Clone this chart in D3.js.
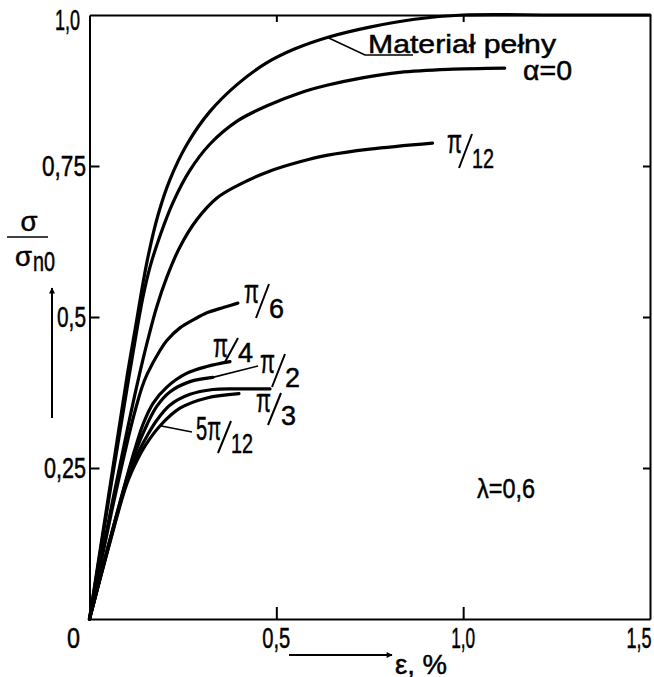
<!DOCTYPE html>
<html>
<head>
<meta charset="utf-8">
<script src="https://cdn.jsdelivr.net/npm/d3@7/dist/d3.min.js"></script>
<style>
  body { margin: 0; background: #fff; }
  svg { display: block; }
  text { font-family: "Liberation Sans", Arial, sans-serif; fill: #000; stroke: #000; stroke-width: 0.5px; }
  .axis path, .axis line { stroke: #000; stroke-width: 2; }
</style>
</head>
<body>
<svg id="svg" width="654" height="677"></svg>
<script>
// strain (%) / relative stress pairs
var pelny   = [[0,0],[0.06,0.24],[0.1,0.40],[0.125,0.49],[0.14,0.545],[0.156,0.598],[0.183,0.668],[0.215,0.727],[0.261,0.786],[0.322,0.840],[0.397,0.886],[0.475,0.921],[0.55,0.944],[0.643,0.964],[0.75,0.98],[0.87,0.993],[1.0,1.0],[1.25,1.0],[1.5,1.0]];
var alfa0   = [[0,0],[0.06,0.23],[0.1,0.38],[0.13,0.49],[0.143,0.533],[0.162,0.583],[0.189,0.635],[0.223,0.689],[0.269,0.743],[0.322,0.786],[0.397,0.825],[0.48,0.851],[0.563,0.871],[0.638,0.884],[0.73,0.896],[0.83,0.905],[0.96,0.91],[1.111,0.912]];
var alfaPi12 = [[0,0],[0.06,0.19],[0.1,0.31],[0.13,0.395],[0.156,0.462],[0.18,0.517],[0.207,0.566],[0.242,0.616],[0.287,0.661],[0.341,0.697],[0.397,0.718],[0.48,0.741],[0.563,0.757],[0.638,0.768],[0.75,0.778],[0.918,0.788]];
var alfaPi6 = [[0,0],[0.06,0.18],[0.1,0.29],[0.12,0.34],[0.14,0.383],[0.154,0.405],[0.189,0.445],[0.207,0.461],[0.242,0.482],[0.28,0.496],[0.314,0.507],[0.36,0.516],[0.397,0.523]];
var alfaPi4 = [[0,0],[0.05,0.12],[0.1,0.235],[0.12,0.278],[0.143,0.322],[0.17,0.357],[0.207,0.384],[0.261,0.407],[0.314,0.418],[0.376,0.426]];
var alfaPi2 = [[0,0],[0.05,0.12],[0.1,0.233],[0.125,0.28],[0.154,0.322],[0.18,0.352],[0.215,0.376],[0.269,0.393],[0.33,0.4]];
var alfaPi3 = [[0,0],[0.05,0.118],[0.1,0.228],[0.13,0.275],[0.154,0.303],[0.18,0.329],[0.215,0.354],[0.269,0.372],[0.33,0.38],[0.40,0.381],[0.483,0.381]];
var alfa5Pi12 = [[0,0],[0.05,0.116],[0.1,0.224],[0.13,0.266],[0.15,0.288],[0.189,0.32],[0.242,0.349],[0.314,0.366],[0.40,0.373]];

var xTicks = [0, 0.5, 1.0, 1.5];
var xTickLabels = ["0", "0,5", "1,0", "1,5"];
var yTicks = [0.25, 0.5, 0.75, 1.0];
var yTickLabels = ["0,25", "0,5", "0,75", "1,0"];

var svg = d3.select("#svg");
var x = d3.scaleLinear().domain([0, 1.5]).range([89.5, 650]);
var y = d3.scaleLinear().domain([0, 1]).range([619, 15]);

// the lettering on the original is condensed: squeeze each string to its width
function label(str, px, py, size, w, anchor) {
    return svg.append("text").attr("x", px).attr("y", py)
        .attr("text-anchor", anchor || "start")
        .style("font-size", size + "px")
        .attr("textLength", w).attr("lengthAdjust", "spacingAndGlyphs")
        .text(str);
}

// frame + ticks
svg.append("g").attr("class", "axis").attr("transform", "translate(0," + y(0) + ")")
    .call(d3.axisBottom(x).tickValues([0.5, 1.0]).tickSize(-12).tickSizeOuter(0).tickFormat(""));
svg.append("g").attr("class", "axis").attr("transform", "translate(0," + y(1) + ")")
    .call(d3.axisBottom(x).tickValues([0.5, 1.0]).tickSize(7).tickSizeOuter(0).tickFormat(""));
svg.append("g").attr("class", "axis").attr("transform", "translate(" + x(0) + ",0)")
    .call(d3.axisLeft(y).tickValues([0.25, 0.5, 0.75]).tickSize(-10).tickSizeOuter(0).tickFormat(""));
svg.append("g").attr("class", "axis").attr("transform", "translate(" + x(1.5) + ",0)")
    .call(d3.axisLeft(y).tickValues([0.25, 0.5, 0.75]).tickSize(7).tickSizeOuter(0).tickFormat(""));
svg.selectAll(".axis .tick line").attr("stroke-width", 1.8);

// tick labels
var xLabW = [13, 28, 24, 25];
xTicks.forEach(function (d, i) {
    var cx = i == 0 ? x(d) - 16 : (i == 3 ? x(d) - 11 : x(d));
    label(xTickLabels[i], cx, 648, 29, xLabW[i], "middle");
});
var yLabW = [42, 29, 44, 25];
yTicks.forEach(function (d, i) {
    label(yTickLabels[i], i == 3 ? 80 : 86, y(d) + (i == 3 ? 15 : 10), 29, yLabW[i], "end");
});

// curves
var line = d3.line().x(function (d) { return x(d[0]); }).y(function (d) { return y(d[1]); }).curve(d3.curveCatmullRom.alpha(0.5));
[pelny, alfa0, alfaPi12, alfaPi6, alfaPi4, alfaPi2, alfaPi3, alfa5Pi12].forEach(function (s) {
    svg.append("path").attr("d", line(s))
        .attr("fill", "none").attr("stroke", "#000").attr("stroke-width", 3.2)
        .attr("stroke-linecap", "round").attr("stroke-linejoin", "round");
});

// leaders
function leader(pts) {
    svg.append("path").attr("d", d3.line()(pts)).attr("fill", "none").attr("stroke", "#000").attr("stroke-width", 1.6);
}
leader([[x(0.636), y(0.963)], [365, 55], [413, 55]]);
leader([[x(0.33), y(0.4)], [258, 366]]);
leader([[x(0.189), y(0.32)], [192, 432]]);

label("Materiał pełny", 368, 53, 26, 188);
label("α=0", 523, 80, 27, 49);
label("λ=0,6", 477, 498, 27, 58);

// π fractions: numerator, slash, lowered denominator
function frac(num, den, px, py, drop) {
    var numW = num.length > 1 ? 25 : 15;
    var denW = den.length > 1 ? 22 : 15;
    label(num, px, py, 34, numW);
    svg.append("line").attr("x1", px + numW - 3).attr("y1", py + drop)
        .attr("x2", px + numW + 10).attr("y2", py - 19)
        .attr("stroke", "#000").attr("stroke-width", 2);
    label(den, px + numW + 10, py + drop, 28, denW);
}
frac("π", "12", 447, 153, 15);
frac("π", "6", 244, 303, 15);
frac("π", "4", 213, 357, 5);
frac("π", "2", 260, 373, 14);
frac("π", "3", 256, 412, 13);
frac("5π", "12", 196, 440, 13);

// axis names
label("σ", 29, 231, 28, 17, "middle");
svg.append("line").attr("x1", 7).attr("x2", 48).attr("y1", 237).attr("y2", 237).attr("stroke", "#000").attr("stroke-width", 1.6);
label("σ", 15, 266, 28, 17);
label("n0", 33, 271, 27, 22);

svg.append("defs").append("marker").attr("id", "ah").attr("viewBox", "0 0 10 10")
    .attr("refX", 9).attr("refY", 5).attr("markerWidth", 6).attr("markerHeight", 3)
    .attr("markerUnits", "strokeWidth").attr("orient", "auto")
    .append("path").attr("d", "M0,0L10,5L0,10Z").attr("fill", "#000");
svg.append("line").attr("x1", 52).attr("x2", 52).attr("y1", 418).attr("y2", 288)
    .attr("stroke", "#000").attr("stroke-width", 2).attr("marker-end", "url(#ah)");
svg.append("line").attr("x1", 289).attr("x2", 392).attr("y1", 655).attr("y2", 655)
    .attr("stroke", "#000").attr("stroke-width", 2).attr("marker-end", "url(#ah)");
label("ε, %", 395, 674, 28, 52);
</script>
</body>
</html>
